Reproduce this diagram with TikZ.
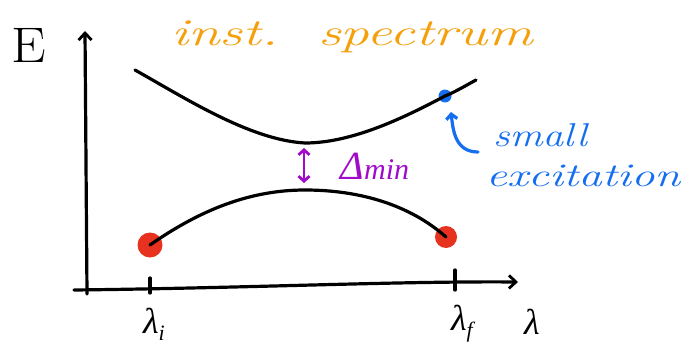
\documentclass[tikz,border=0pt]{standalone}
\usepackage{fontspec}
\newfontfamily\grk{Liberation Serif}
\usetikzlibrary{arrows.meta}
\definecolor{sorange}{RGB}{245,160,10}
\definecolor{spurple}{RGB}{160,10,200}
\definecolor{sblue}{RGB}{20,110,240}
\definecolor{sred}{RGB}{230,50,30}
\tikzset{
  ink/.style={line width=3.2pt, line cap=round, line join=round},
  axisarrow/.style={ink, -{Straight Barb[length=7pt,width=13pt,line width=2.8pt]}},
  lbl/.style={inner sep=0pt, font=\itshape},
  dotnode/.style={circle, inner sep=0pt, minimum size=#1},
  lamfont/.style={font=\grk\itshape\fontsize{36}{36}\selectfont},
}
\newcommand{\subtxt}[1]{\raisebox{-7pt}{\fontsize{22}{22}\selectfont #1}}
\begin{document}
\begin{tikzpicture}[x=1pt,y=-1pt]
\useasboundingbox[fill=white] (0,0) rectangle (690,353);
% axes
\coordinate (yb) at (87,294);
\coordinate (yt) at (85,31);
\coordinate (xl) at (74,290);
\coordinate (xr) at (518,282);
\draw[axisarrow] (yb) -- (yt);
\draw[axisarrow] (xl) .. controls (250,288) and (400,281) .. (xr);
\coordinate (ti1) at (150,278); \coordinate (ti2) at (150,293);
\coordinate (tf1) at (455,270); \coordinate (tf2) at (455,290);
\draw[ink] (ti1) -- (ti2);
\draw[ink] (tf1) -- (tf2);
% labels
\node[lbl, font=\fontsize{50}{50}\selectfont] (E) at (29,45) {\scalebox{1.1}[1]{E}};
\node[lbl, text=sorange, font=\itshape\fontsize{38}{38}\selectfont] (title) at (352,37) {\scalebox{1.5}[1]{inst.\ \ spectrum}};
\node[lbl, lamfont] (li) at (154,324) {λ\subtxt{i}};
\node[lbl, lamfont] (lf) at (462,324) {λ\subtxt{f}};
\node[lbl, lamfont] (l) at (532,322) {λ};
% upper curve
\coordinate (u0) at (135,70);
\coordinate (umin) at (305,143);
\node[dotnode=13pt, fill=sblue] (bdot) at (445,96) {};
\coordinate (u1) at (476,80);
\draw[ink] (u0) .. controls (185,98) and (250,140) .. (umin)
  .. controls (350,143) and (400,120) .. (bdot.center)
  .. controls (455,92) and (465,86) .. (u1);
% lower curve
\node[dotnode=25pt, fill=sred] (rdot1) at (150,245) {};
\node[dotnode=22pt, fill=sred] (rdot2) at (446,237) {};
\coordinate (lmax) at (305,190);
\draw[ink] (rdot1.center) .. controls (200,210) and (250,190) .. (lmax)
  .. controls (360,190) and (410,205) .. (rdot2.center);
% gap arrow
\coordinate (g1) at (304,148);
\coordinate (g2) at (304,183);
\draw[ink, spurple, line width=2.8pt, {Straight Barb[length=5pt,width=11pt]}-{Straight Barb[length=5pt,width=11pt]}] (g1) -- (g2);
\node[lbl, text=spurple, font=\grk\itshape\fontsize{40}{40}\selectfont] (dmin) at (375,166) {Δ{\fontsize{30}{30}\selectfont min}};
% small excitation
\node[lbl, text=sblue, font=\itshape\fontsize{33}{33}\selectfont] (small) at (540,135) {\scalebox{1.25}[1]{small}};
\node[lbl, text=sblue, font=\itshape\fontsize{33}{33}\selectfont] (exc) at (583,176) {\scalebox{1.42}[1]{excitation}};
\coordinate (hs) at (478,152);
\coordinate (ht) at (451,112);
\draw[ink, sblue, -{Straight Barb[length=5pt,width=11pt]}] (hs) .. controls (455,152) and (453,130) .. (ht);
\end{tikzpicture}
\end{document}
